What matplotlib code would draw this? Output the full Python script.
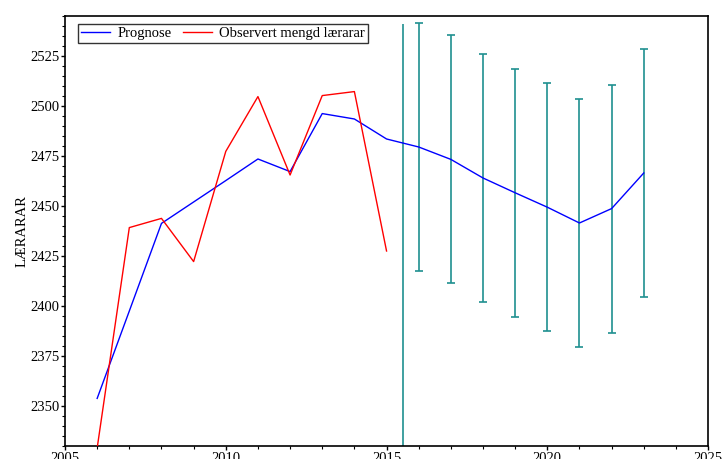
import matplotlib
matplotlib.use("Agg")
import matplotlib.pyplot as plt
from matplotlib.ticker import MultipleLocator

# data
aar_prognose = [2006, 2007, 2008, 2009, 2010, 2011, 2012, 2013, 2014, 2015,
                2016, 2017, 2018, 2019, 2020, 2021, 2022, 2023]
prognose = [2353.8, 2397.5, 2441.3, 2452.0, 2462.7, 2473.5, 2467.2, 2496.2, 2493.5, 2483.5,
            2479.5, 2473.3, 2464.0, 2456.6, 2449.4, 2441.5, 2448.7, 2466.5]

aar_obs = [2006, 2007, 2008, 2009, 2010, 2011, 2012, 2013, 2014, 2015]
observert = [2329.0, 2439.2, 2443.8, 2422.2, 2477.3, 2504.7, 2465.5, 2505.2, 2507.2, 2427.5]

aar_feil = [2016, 2017, 2018, 2019, 2020, 2021, 2022, 2023]
feil_midt = [2479.4, 2473.3, 2464.0, 2456.6, 2449.5, 2441.4, 2448.7, 2466.6]
feil = [61.9, 62.0, 62.2, 62.1, 62.2, 62.1, 62.0, 62.1]

skilje_x = 2015.5
skilje_topp = 2541.2

plt.rcParams["font.family"] = ["Liberation Serif", "DejaVu Serif"]
plt.rcParams["font.size"] = 10.5

fig = plt.figure(figsize=(7.24, 4.59), dpi=100)
ax = fig.add_axes([0.0898, 0.0283, 0.8882, 0.9369])

ax.vlines(skilje_x, 2300, skilje_topp, color="#1f9090", lw=1.2, zorder=1)
ax.errorbar(aar_feil, feil_midt, yerr=feil, fmt="none", ecolor="#1f9090",
            elinewidth=1.2, capsize=3.2, capthick=1.2, zorder=1)
ax.plot(aar_prognose, prognose, color="blue", lw=1.0, label="Prognose", zorder=3)
ax.plot(aar_obs, observert, color="red", lw=1.0, label="Observert mengd lærarar", zorder=3)

ax.set_xlim(2005, 2025)
ax.set_ylim(2330, 2545)
ax.xaxis.set_major_locator(MultipleLocator(5))
ax.xaxis.set_minor_locator(MultipleLocator(1))
ax.yaxis.set_major_locator(MultipleLocator(25))
ax.yaxis.set_minor_locator(MultipleLocator(5))
ax.tick_params(which="both", direction="out", top=False, right=False)
ax.tick_params(axis="x", which="major", length=3, width=1, pad=1)
ax.tick_params(axis="x", which="minor", length=2.5, width=0.8)
ax.tick_params(axis="y", which="major", length=3, width=1, pad=1)
ax.tick_params(axis="y", which="minor", length=2, width=0.8)
for s in ax.spines.values():
    s.set_linewidth(1.2)

ax.set_ylabel("LÆRARAR", labelpad=1)

leg = ax.legend(loc="upper left", bbox_to_anchor=(0.0198, 0.981), ncol=2,
                frameon=True, fancybox=False, edgecolor="black", borderpad=0.2,
                columnspacing=0.8, handletextpad=0.5, borderaxespad=0)
leg.get_frame().set_linewidth(1.0)

fig.savefig("out.png", dpi=100)
